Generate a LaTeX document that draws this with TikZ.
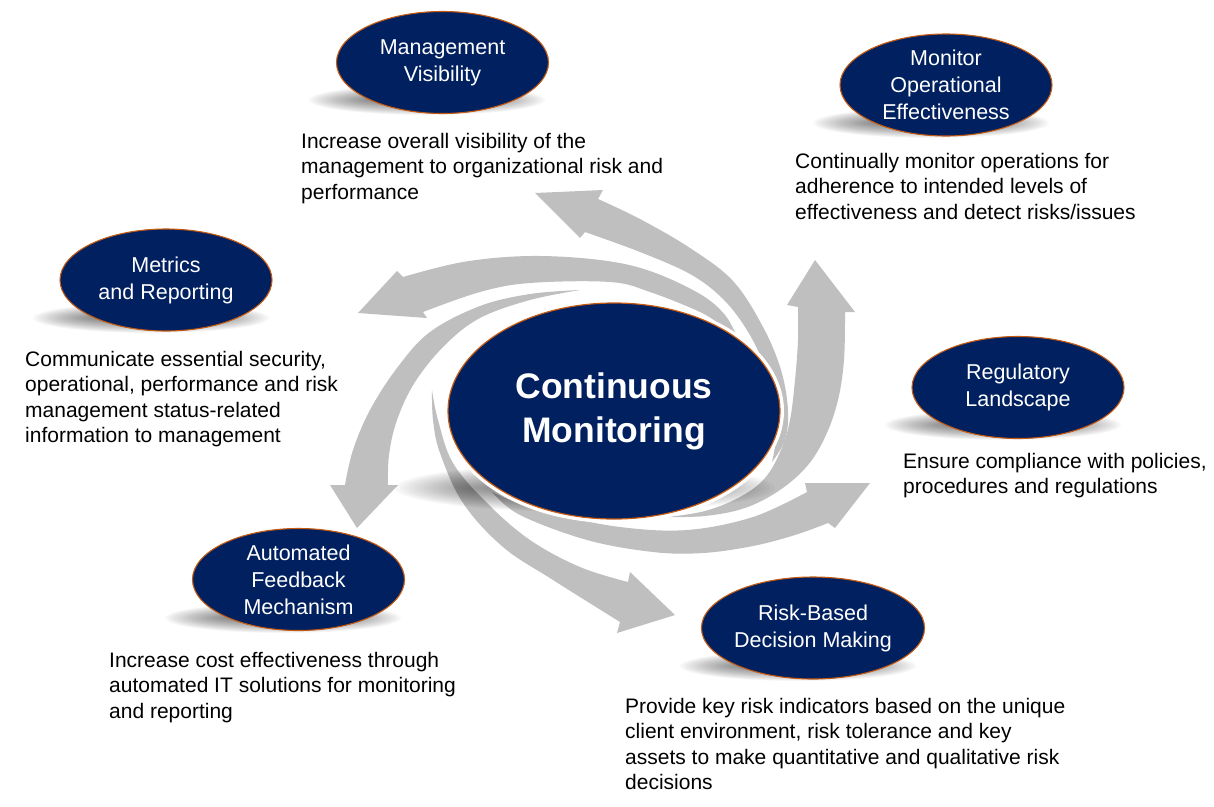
\documentclass[tikz,border=0pt]{standalone}
\usepackage{fontspec}
\setmainfont{Liberation Sans}
\usetikzlibrary{shapes.geometric}
\definecolor{navy}{HTML}{002060}
\definecolor{rim}{HTML}{C55A11}
\definecolor{arrowgray}{HTML}{BFBFBF}
\newcommand{\softshadow}[4]{%
  \foreach \k in {0,...,19} {%
    \fill[black, opacity=0.026] (#1,#2) ellipse [x radius={#3*(1-0.025*\k)}, y radius={#4*(1-0.04*\k)}];
  }}
\begin{document}
\begin{tikzpicture}[x=1pt,y=1pt,
  desc/.style={anchor=base west, align=left, inner sep=0pt, text=black,
    font=\fontsize{21}{25.6}\selectfont},
  topic/.style={ellipse, draw=rim, line width=1.1pt, fill=navy, text=white,
    minimum width=212pt, minimum height=102pt, inner sep=0pt, align=center,
    font=\fontsize{21.5}{27}\selectfont},
  hub/.style={ellipse, draw=rim, line width=1.2pt, fill=navy, text=white,
    minimum width=332pt, minimum height=216pt, inner sep=0pt, align=center,
    font=\bfseries\fontsize{35.5}{44}\selectfont},
  swirl/.style={fill=arrowgray}]
\useasboundingbox (0,0) rectangle (1214,-806);

% ---- swirl arrows ----
% A : to Management Visibility
\fill[swirl] plot[smooth, tension=0.6] coordinates {(772,-462) (785,-440) (788,-410) (781,-370) (763,-327) (733,-281) (690,-248) (640,-219) (598,-199)}
  -- (603,-190) -- (535,-193) -- (580,-238)
  -- plot[smooth, tension=0.6] coordinates {(585,-232) (640,-252) (690,-274) (722,-298) (745,-327) (762,-360) (773,-398) (777,-430) (772,-462)} -- cycle;
% B : to Monitor Operational Effectiveness
\fill[swirl] plot[smooth, tension=0.6] coordinates {(667,-517) (705,-516) (745,-508) (780,-490) (808,-465) (826,-435) (838,-400) (844,-360) (845,-312)}
  -- (855,-312) -- (815,-260) -- (787,-305)
  -- plot[smooth, tension=0.6] coordinates {(798,-307) (798,-340) (795,-380) (790,-420) (781,-450) (765,-478) (740,-497) (705,-511) (667,-517)} -- cycle;
% C : to Regulatory Landscape
\fill[swirl] plot[smooth, tension=0.6] coordinates {(492,-492) (520,-515) (587,-540) (653,-552) (703,-553) (753,-546) (795,-535) (828,-523)}
  -- (835,-528) -- (870,-483) -- (805,-483)
  -- plot[smooth, tension=0.6] coordinates {(807,-492) (753,-517) (687,-530) (620,-527) (553,-514) (520,-504) (492,-492)} -- cycle;
% D : to Risk-Based Decision Making
\fill[swirl] plot[smooth, tension=0.6] coordinates {(432,-390) (433,-420) (440,-453) (463,-503) (503,-547) (553,-580) (620,-622)}
  -- (617,-633) -- (675,-615) -- (630,-572)
  -- plot[smooth, tension=0.6] coordinates {(628,-582) (580,-567) (530,-540) (487,-503) (453,-463) (438,-420) (432,-390)} -- cycle;
% E : to Automated Feedback Mechanism
\fill[swirl] plot[smooth, tension=0.6] coordinates {(580,-290) (530,-294) (480,-306) (430,-332) (397,-368) (370,-410) (353,-450) (345,-485)}
  -- (330,-485) -- (357,-528) -- (398,-485)
  -- plot[smooth, tension=0.6] coordinates {(388,-485) (389,-455) (397,-420) (415,-382) (445,-345) (480,-318) (530,-300) (580,-290)} -- cycle;
% F : to Metrics and Reporting
\fill[swirl] plot[smooth, tension=0.6] coordinates {(737,-337) (725,-315) (700,-294) (650,-271) (600,-260) (530,-256) (463,-262) (403,-277)}
  -- (397,-271) -- (358,-313) -- (427,-318)
  -- plot[smooth, tension=0.6] coordinates {(423,-312) (480,-292) (530,-283) (610,-282) (650,-292) (700,-312) (722,-326) (737,-337)} -- cycle;

% ---- central ellipse ----
\softshadow{585}{-488}{190}{24}
\fill[white] (614,-411) ellipse [x radius=170, y radius=112];
\node[hub] (cm) at (614,-411) {Continuous\\Monitoring};

% ---- outer ellipses ----
\softshadow{427}{-100}{118}{15}
\node[topic] (mv) at (442.5,-62.5) {Management\\Visibility};
\softshadow{931}{-123}{118}{15}
\node[topic] (moe) at (946,-85) {Monitor\\Operational\\Effectiveness};
\softshadow{151}{-318}{118}{15}
\node[topic] (mr) at (166,-280) {Metrics\\and Reporting};
\softshadow{1003}{-425}{118}{15}
\node[topic] (rl) at (1018,-387.5) {Regulatory\\Landscape};
\softshadow{283}{-618}{118}{15}
\node[topic] (af) at (298.5,-579.5) {Automated\\Feedback\\Mechanism};
\softshadow{798}{-666}{118}{15}
\node[topic] (rb) at (813,-628) {Risk-Based\\Decision Making};

% ---- descriptions (anchor on the baseline of the last line) ----
\node[desc] (mvd) at (301,-199.2) {Increase overall visibility of the\\management to organizational risk and\\performance};
\node[desc] (moed) at (795,-219.2) {Continually monitor operations for\\adherence to intended levels of\\effectiveness and detect risks/issues};
\node[desc] (mrd) at (25,-442.8) {Communicate essential security,\\operational, performance and risk\\management status-related\\information to management};
\node[desc] (rld) at (903,-493.6) {Ensure compliance with policies,\\procedures and regulations};
\node[desc] (afd) at (109,-718.2) {Increase cost effectiveness through\\automated IT solutions for monitoring\\and reporting};
\node[desc] (rbd) at (625,-789.8) {Provide key risk indicators based on the unique\\client environment, risk tolerance and key\\assets to make quantitative and qualitative risk\\decisions};
\end{tikzpicture}
\end{document}
